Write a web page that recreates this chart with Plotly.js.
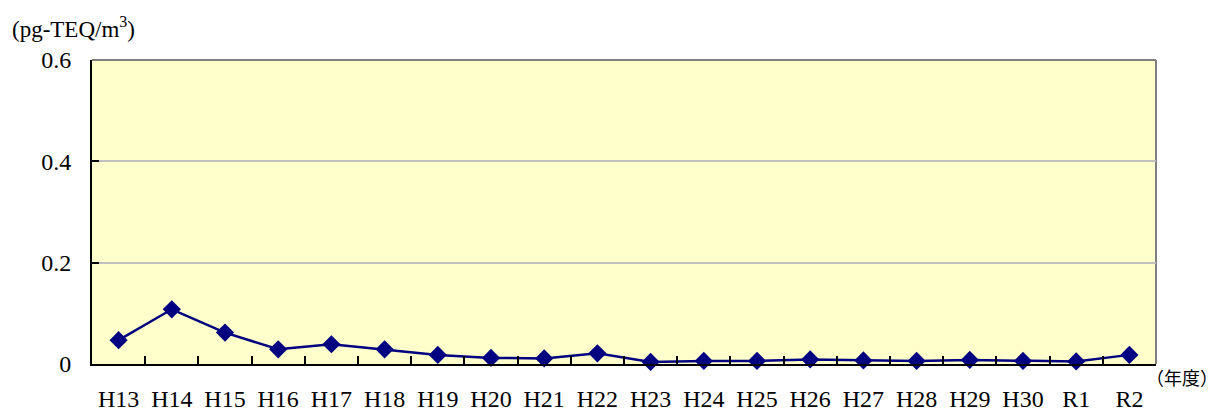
<!DOCTYPE html>
<html><head><meta charset="utf-8">
<script src="https://cdn.plot.ly/plotly-3.0.1.min.js"></script>
<style>
html,body{margin:0;padding:0;background:#fff}
#chart{width:1219px;height:414px}
</style>
</head><body><div id="chart"></div>
<script>
const years = ["H13","H14","H15","H16","H17","H18","H19","H20","H21","H22","H23","H24","H25","H26","H27","H28","H29","H30","R1","R2"];
const values = [0.047,0.108,0.062,0.029,0.039,0.029,0.018,0.012,0.011,0.021,0.004,0.006,0.006,0.009,0.007,0.006,0.008,0.006,0.005,0.018];
const yTicks = [0,0.2,0.4,0.6];
const yTickText = ["0","0.2","0.4","0.6"];
const yUnit = "(pg-TEQ/m<sup>3</sup>)";
const xUnit = "（年度）";

const font = "Liberation Serif, Times New Roman, Times, serif";
const trace = {
  x: years, y: values, type: "scatter", mode: "lines+markers",
  line: {color: "#000080", width: 2.5},
  marker: {symbol: "diamond", size: 14, color: "#000080"},
  cliponaxis: false, hoverinfo: "skip"
};
const layout = {
  width: 1219, height: 414,
  margin: {l: 92, r: 63, t: 60, b: 50},
  paper_bgcolor: "#ffffff", plot_bgcolor: "#ffffcc",
  showlegend: false,
  font: {family: font, size: 24, color: "#000"},
  xaxis: {
    type: "category", range: [-0.5, years.length - 0.5], autorange: false,
    tickson: "boundaries", ticks: "inside", ticklen: 8, tickwidth: 2, tickcolor: "#000",
    showline: true, linecolor: "#000", linewidth: 2, showgrid: false, zeroline: false,
    ticklabelstandoff: 12, tickfont: {family: font, size: 24, color: "#000"}, fixedrange: true
  },
  yaxis: {
    range: [0, 0.6], autorange: false, tickvals: yTicks, ticktext: yTickText, ticks: "inside", ticklen: 7, tickwidth: 2, tickcolor: "#000",
    showline: true, linecolor: "#000", linewidth: 2, showgrid: true, gridcolor: "#c0c0c0", gridwidth: 2,
    zeroline: false, ticklabelstandoff: 14, tickfont: {family: font, size: 24, color: "#000"}, fixedrange: true
  },
  shapes: [
    {type: "line", xref: "paper", yref: "paper", x0: 0, x1: 1, y0: 1, y1: 1, line: {color: "#808080", width: 2}, layer: "below"},
    {type: "line", xref: "paper", yref: "paper", x0: 1, x1: 1, y0: 0, y1: 1, line: {color: "#808080", width: 2}, layer: "below"}
  ],
  annotations: [
    {text: yUnit, xref: "paper", yref: "paper", x: -0.077, y: 1.0, yshift: 16, xanchor: "left", yanchor: "bottom", showarrow: false,
     font: {family: font, size: 23, color: "#000"}},
    {text: xUnit, xref: "paper", yref: "paper", x: 1.0, y: 0, yshift: 2, xanchor: "left", yanchor: "top", showarrow: false,
     xshift: -12, font: {family: "Noto Sans CJK JP", size: 18, color: "#000"}}
  ]
};
Plotly.newPlot("chart", [trace], layout, {displayModeBar: false, staticPlot: true});
</script></body></html>
